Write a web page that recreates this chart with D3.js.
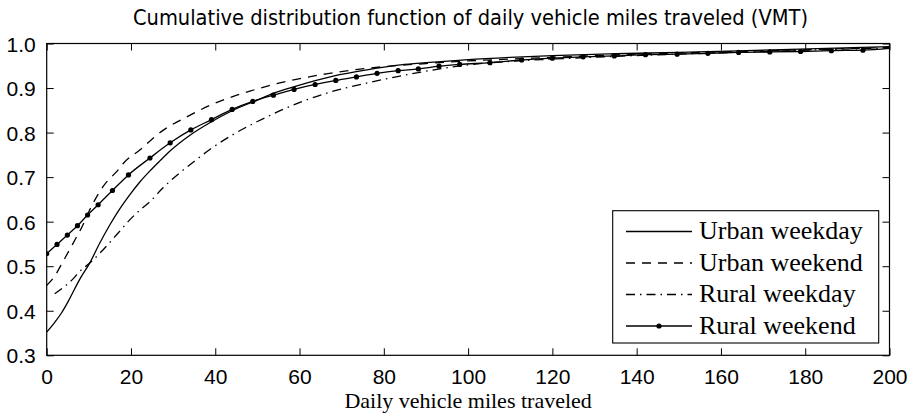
<!DOCTYPE html>
<html>
<head>
<meta charset="utf-8">
<script src="https://cdn.jsdelivr.net/npm/d3@7"></script>
<style>
	body { margin: 0; background: #fff; }
	svg text { fill: #000; }
</style>
</head>
<body>
<div id="chart"></div>
<script>
// values
var seriesNames = ["Urban weekday", "Urban weekend", "Rural weekday", "Rural weekend"];

var urbanWeekdayMiles = [0, 1.9, 3.5, 5.1, 7.8, 10.2, 12.6, 15, 17.3, 19.7, 22.1, 24.5, 26.8, 29.2, 34, 38.7, 44, 50, 54, 59, 68, 76, 84, 90, 100, 110, 120, 135, 150, 170, 200];
var urbanWeekdayCdf = [0.352, 0.374, 0.395, 0.421, 0.470, 0.507, 0.552, 0.593, 0.628, 0.660, 0.689, 0.714, 0.736, 0.758, 0.794, 0.822, 0.849, 0.873, 0.889, 0.904, 0.927, 0.941, 0.952, 0.957, 0.964, 0.969, 0.973, 0.977, 0.980, 0.985, 0.993];

var urbanWeekendMiles = [0, 1.9, 3.9, 7.1, 8.2, 10.6, 13.4, 17.3, 18.1, 22.1, 27.6, 33.2, 38.7, 42.7, 48.2, 54.6, 60.1, 66.4, 80, 90, 100, 110, 120, 140, 160, 180, 200];
var urbanWeekendCdf = [0.457, 0.478, 0.511, 0.566, 0.585, 0.634, 0.679, 0.720, 0.730, 0.761, 0.805, 0.835, 0.861, 0.876, 0.893, 0.910, 0.921, 0.932, 0.948, 0.955, 0.961, 0.965, 0.969, 0.976, 0.981, 0.986, 0.991];

var ruralWeekdayMiles = [1.9, 4.3, 6.2, 7.8, 10.2, 13.4, 16.9, 19.7, 22.1, 24.5, 27.6, 30, 32.4, 35.9, 38.7, 44.3, 52.2, 60.1, 68, 75.9, 83.8, 87.8, 93.3, 100, 110, 120, 140, 160, 180, 200];
var ruralWeekdayCdf = [0.438, 0.455, 0.471, 0.488, 0.507, 0.537, 0.574, 0.604, 0.626, 0.645, 0.676, 0.697, 0.716, 0.742, 0.762, 0.796, 0.835, 0.868, 0.893, 0.911, 0.927, 0.934, 0.943, 0.952, 0.960, 0.965, 0.973, 0.979, 0.985, 0.990];

var ruralWeekendMiles = [0, 2.45, 4.9, 7.3, 9.7, 12.2, 15.6, 19.4, 24.5, 29.3, 34.2, 39.1, 44, 48.9, 53.8, 58.7, 63.7, 68.6, 73.5, 78.4, 83.4, 88.2, 93.1, 98, 105.2, 112.7, 120, 127.3, 134.7, 142.1, 149.6, 156.9, 164.2, 171.6, 178.9, 186.2, 193.7, 200];
var ruralWeekendCdf = [0.528, 0.549, 0.570, 0.591, 0.615, 0.638, 0.670, 0.705, 0.743, 0.777, 0.806, 0.829, 0.852, 0.870, 0.884, 0.897, 0.908, 0.917, 0.925, 0.933, 0.939, 0.943, 0.949, 0.953, 0.957, 0.963, 0.967, 0.970, 0.972, 0.975, 0.976, 0.978, 0.980, 0.981, 0.982, 0.984, 0.985, 0.989];

var xTicks = [0, 20, 40, 60, 80, 100, 120, 140, 160, 180, 200];
var yTicks = [0.3, 0.4, 0.5, 0.6, 0.7, 0.8, 0.9, 1.0];

var title = "Cumulative distribution function of daily vehicle miles traveled (VMT)";
var xLabel = "Daily vehicle miles traveled";

var W = 910, H = 415;
var margin = {top: 43.5, right: 20.5, bottom: 59.7, left: 46.7};
var width = W - margin.left - margin.right,
	height = H - margin.top - margin.bottom;

var x = d3.scaleLinear().domain([0, 200]).range([0, width]);
var y = d3.scaleLinear().domain([0.3, 1.0]).range([height, 0]);

var svg = d3.select("#chart").append("svg")
		.attr("width", W)
		.attr("height", H);

var g = svg.append("g")
		.attr("transform", `translate(${margin.left}, ${margin.top})`);

g.append("clipPath").attr("id", "plotclip")
	.append("rect").attr("width", width).attr("height", height);

// series
var series = [
	{name: seriesNames[0], miles: urbanWeekdayMiles, cdf: urbanWeekdayCdf, dash: null, markers: false},
	{name: seriesNames[1], miles: urbanWeekendMiles, cdf: urbanWeekendCdf, dash: "9,7", markers: false},
	{name: seriesNames[2], miles: ruralWeekdayMiles, cdf: ruralWeekdayCdf, dash: "9,5,1.5,5", markers: false},
	{name: seriesNames[3], miles: ruralWeekendMiles, cdf: ruralWeekendCdf, dash: null, markers: true}
];

var line = d3.line()
		.x(d => x(d[0]))
		.y(d => y(d[1]))
		.curve(d3.curveMonotoneX);

var plot = g.append("g").attr("clip-path", "url(#plotclip)");

series.forEach(s => {
	var pts = s.miles.map((m, i) => [m, s.cdf[i]]);
	plot.append("path")
			.datum(pts)
			.attr("fill", "none")
			.attr("stroke", "#000")
			.attr("stroke-width", 1.3)
			.attr("stroke-dasharray", s.dash)
			.attr("d", line);
	if (s.markers) {
		plot.selectAll(null)
				.data(pts.filter(d => d[0] < 200))
			.enter().append("circle")
				.attr("cx", d => x(d[0]))
				.attr("cy", d => y(d[1]))
				.attr("r", 2.6)
				.attr("fill", "#000");
	}
});

// axes: box with inward ticks on all sides
var fmt = d3.format(".1f");
var tickFont = "'Liberation Sans', Arial, sans-serif";

var xb = g.append("g")
		.attr("transform", `translate(0, ${height})`)
		.call(d3.axisBottom(x).tickValues(xTicks).tickSizeInner(-7).tickSizeOuter(0).tickPadding(14));
var xt = g.append("g")
		.call(d3.axisTop(x).tickValues(xTicks).tickSizeInner(-7).tickSizeOuter(0).tickFormat(""));
var yl = g.append("g")
		.call(d3.axisLeft(y).tickValues(yTicks).tickSizeInner(-7).tickSizeOuter(0).tickPadding(11).tickFormat(fmt));
var yr = g.append("g")
		.attr("transform", `translate(${width}, 0)`)
		.call(d3.axisRight(y).tickValues(yTicks).tickSizeInner(-7).tickSizeOuter(0).tickFormat(""));

[xb, xt, yl, yr].forEach(a => {
	a.select(".domain").remove();
	a.selectAll("line").attr("stroke", "#000").attr("stroke-width", 1);
	a.selectAll("text")
			.attr("font-family", tickFont)
			.attr("font-size", 21)
			.attr("fill", "#000");
});
xb.selectAll("text").attr("dy", "0.71em");
yl.selectAll("text").attr("dy", "0.36em");

g.append("rect")
		.attr("width", width)
		.attr("height", height)
		.attr("fill", "none")
		.attr("stroke", "#000")
		.attr("stroke-width", 1.2);

// title and label
svg.append("text")
		.attr("x", 470.5)
		.attr("y", 25)
		.attr("text-anchor", "middle")
		.attr("font-family", "'DejaVu Sans Condensed', 'DejaVu Sans', sans-serif")
		.attr("font-stretch", "condensed")
		.attr("font-size", 21)
		.attr("textLength", 675)
		.attr("lengthAdjust", "spacingAndGlyphs")
		.text(title);

svg.append("text")
		.attr("x", margin.left + width / 2)
		.attr("y", 408)
		.attr("text-anchor", "middle")
		.attr("font-family", "'Liberation Serif', 'Times New Roman', serif")
		.attr("font-size", 22)
		.text(xLabel);

// legend
var legend = svg.append("g");
legend.append("rect")
		.attr("x", 612.7)
		.attr("y", 210.7)
		.attr("width", 266)
		.attr("height", 132.3)
		.attr("fill", "#fff")
		.attr("stroke", "#000")
		.attr("stroke-width", 1.1);

var rows = legend.selectAll(".row")
		.data(series)
	.enter().append("g")
		.attr("class", "row")
		.attr("transform", (d, i) => `translate(626, ${231.5 + i * 31.5})`);

rows.append("line")
		.attr("x1", 0)
		.attr("x2", 66)
		.attr("stroke", "#000")
		.attr("stroke-width", 1.3)
		.attr("stroke-dasharray", d => d.dash);

rows.filter(d => d.markers).append("circle")
		.attr("cx", 33)
		.attr("r", 2.6)
		.attr("fill", "#000");

rows.append("text")
		.attr("x", 73)
		.attr("y", 7.5)
		.attr("font-family", "'Liberation Serif', 'Times New Roman', serif")
		.attr("font-size", 26)
		.text(d => d.name);
</script>
</body>
</html>
